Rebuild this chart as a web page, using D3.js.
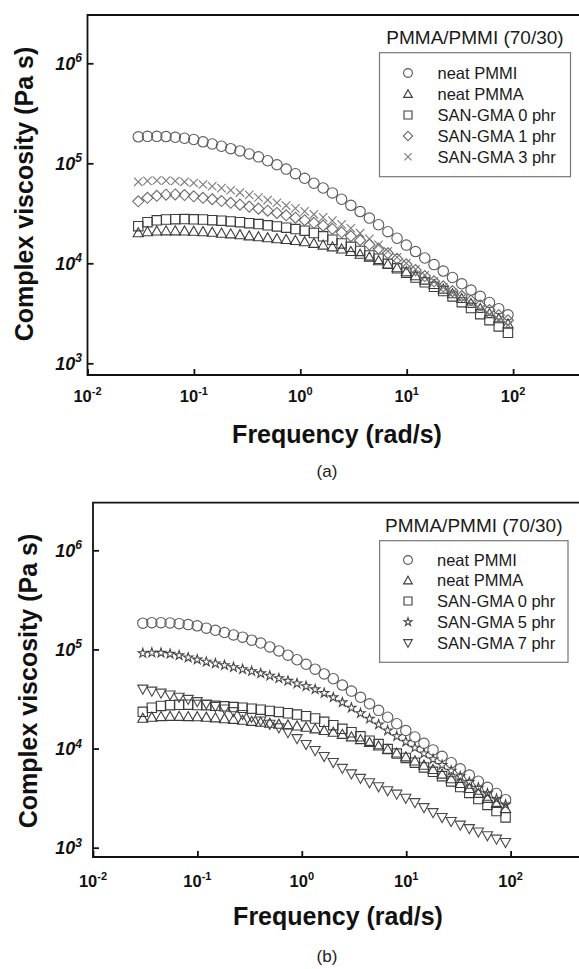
<!DOCTYPE html>
<html>
<head>
<meta charset="utf-8">
<script src="https://cdn.jsdelivr.net/npm/d3@7"></script>
<style>
  html, body { margin: 0; padding: 0; background: #fff; }
  svg { display: block; }
  text { font-family: "Liberation Sans", Arial, Helvetica, sans-serif; }
</style>
</head>
<body>
<svg id="chart" width="579" height="969"></svg>
<script>
// Angular frequency sweep (rad/s), shared by every series
const freq = [0.0300, 0.0366, 0.0448, 0.0547, 0.0668, 0.0816, 0.0996, 0.1217, 0.1487, 0.1816,
  0.2218, 0.2709, 0.3309, 0.4042, 0.4937, 0.6030, 0.7365, 0.8996, 1.099, 1.342,
  1.639, 2.002, 2.445, 2.987, 3.648, 4.456, 5.442, 6.647, 8.119, 9.917,
  12.11, 14.79, 18.07, 22.07, 26.96, 32.93, 40.22, 49.12, 60.00, 73.28, 89.50];

// Complex viscosity (Pa s)
const neatPMMI = [184000, 186000, 186000, 185000, 182000, 178000, 173000, 164000, 156000, 148000,
  140000, 133000, 124000, 116000, 106000, 96600, 87500, 78700, 70800, 63200,
  56600, 50600, 43700, 38000, 32900, 28300, 24300, 20700, 17800, 15200,
  13100, 11300, 9700, 8360, 7210, 6240, 5400, 4680, 4060, 3520, 3050];
const neatPMMA = [20200, 20700, 21000, 21100, 21100, 21000, 20900, 20700, 20400, 20000,
  19700, 19300, 18800, 18400, 18000, 17600, 17300, 16900, 16400, 15800,
  15200, 14600, 13900, 13100, 12300, 11500, 10600, 9820, 9020, 8240,
  7500, 6790, 6140, 5520, 4950, 4440, 3960, 3530, 3140, 2790, 2480];
const sanGma0 = [23500, 25800, 26900, 27400, 27600, 27700, 27500, 27400, 27000, 26700,
  26200, 25800, 25200, 24700, 24000, 23400, 22700, 22000, 21200, 20100,
  18600, 17200, 15800, 14600, 13300, 12000, 11100, 9890, 8910, 8050,
  7210, 6460, 5820, 5270, 4660, 4090, 3570, 3100, 2700, 2340, 2020];
const sanGma1 = [41700, 45200, 47300, 48500, 48800, 48100, 46800, 45200, 43700, 41900,
  40300, 38600, 36900, 35200, 33600, 31900, 30200, 28600, 27000, 25400,
  23800, 22100, 20400, 18700, 17000, 15400, 14000, 12600, 11100, 9770,
  8550, 7450, 6610, 5890, 5270, 4710, 4240, 3800, 3410, 3030, 2690];
const sanGma3 = [65300, 66800, 67300, 67100, 66500, 65300, 63500, 61400, 59000, 56500,
  53800, 51000, 48300, 45500, 42900, 40300, 37800, 35400, 33100, 30900,
  28800, 26700, 24500, 22400, 20000, 17600, 15300, 13200, 11500, 10000,
  8710, 7590, 6610, 5750, 5070, 4470, 3950, 3490, 3090, 2740, 2420];
const sanGma5 = [91600, 92700, 92300, 90200, 87100, 82800, 78900, 75000, 72100, 69200,
  66100, 63100, 60300, 57300, 54200, 51200, 48200, 45300, 42500, 39500,
  36300, 32800, 29200, 25800, 22700, 20000, 17500, 15200, 13300, 11700,
  10200, 8910, 7800, 6820, 5970, 5240, 4590, 4030, 3530, 3100, 2720];
const sanGma7 = [39800, 38000, 36300, 34700, 33000, 31400, 29800, 28200, 26600, 25100,
  23600, 22100, 20700, 19000, 17600, 16200, 14500, 12600, 11000, 9550,
  8320, 7240, 6310, 5560, 5010, 4520, 4120, 3760, 3470, 3160,
  2850, 2540, 2260, 2020, 1840, 1690, 1560, 1440, 1320, 1220, 1130];

// Legend labels
const labelsA = ["neat PMMI", "neat PMMA", "SAN-GMA 0 phr", "SAN-GMA 1 phr", "SAN-GMA 3 phr"];
const labelsB = ["neat PMMI", "neat PMMA", "SAN-GMA 0 phr", "SAN-GMA 5 phr", "SAN-GMA 7 phr"];

// Axis ticks (decades)
const xTickExp = [-2, -1, 0, 1, 2];
const yTickExp = [3, 4, 5, 6];

const legendTitle = "PMMA/PMMI (70/30)";
const xTitle = "Frequency (rad/s)";
const yTitle = "Complex viscosity (Pa s)";

// Marker styles
const markerStyle = {
  circle:   { stroke: "#5a5a5a", size: 10.4 },
  triangle: { stroke: "#3a3a3a", size: 10.2 },
  square:   { stroke: "#3c3c3c", size: 9.4 },
  diamond:  { stroke: "#6a6a6a", size: 11 },
  times:    { stroke: "#7a7a7a", size: 8.4 },
  star:     { stroke: "#444", size: 27 },
  triDown:  { stroke: "#484848", size: 10.2 }
};

function symbolPath(type, s) {
  switch (type) {
    case "circle": return d3.symbol(d3.symbolCircle, Math.PI * (s / 2) * (s / 2))();
    case "square": return d3.symbol(d3.symbolSquare, s * s)();
    case "star": return d3.symbol(d3.symbolStar, s)();
    case "diamond": { const h = s / 2; return `M0,${-h}L${h},0L0,${h}L${-h},0Z`; }
    case "triangle": { const h = s / 2; return `M0,${-h}L${h},${h * 0.78}L${-h},${h * 0.78}Z`; }
    case "triDown": { const h = s / 2; return `M0,${h}L${h},${-h * 0.78}L${-h},${-h * 0.78}Z`; }
    case "times": { const a = s / 2; return `M${-a},${-a}L${a},${a}M${-a},${a}L${a},${-a}`; }
  }
}

const svg = d3.select("#chart");

const panels = [
  {
    caption: "(a)",
    frame: { left: 87.5, top: 15, bottom: 375 },
    xRange: [87.5, 619.5],          // 1e-2 .. 1e3
    yRange: [363.3, 63.3],          // 1e3 .. 1e6
    series: [
      { values: neatPMMI, type: "circle" },
      { values: neatPMMA, type: "triangle" },
      { values: sanGma0, type: "square" },
      { values: sanGma1, type: "diamond" },
      { values: sanGma3, type: "times" }
    ],
    labels: labelsA,
    yLabelRight: 82,
    yTitleX: 33, yTitleY: 194,
    xLabelY: 401.5, xTitleX: 337, xTitleY: 443, captionY: 477,
    legend: { titleY: 44, box: [379.5, 52.7, 570.5, 176.7], symX: 408, textX: 437.5, rows: [73, 94, 115, 136, 156.7] }
  },
  {
    caption: "(b)",
    frame: { left: 93, top: 502.7, bottom: 857 },
    xRange: [93, 615],
    yRange: [847.7, 550.3],
    series: [
      { values: neatPMMI, type: "circle" },
      { values: neatPMMA, type: "triangle" },
      { values: sanGma0, type: "square" },
      { values: sanGma5, type: "star" },
      { values: sanGma7, type: "triDown" }
    ],
    labels: labelsB,
    yLabelRight: 82,
    yTitleX: 37, yTitleY: 681,
    xLabelY: 886.5, xTitleX: 338, xTitleY: 925, captionY: 962,
    legend: { titleY: 531.5, box: [379.6, 540.7, 568, 662.3], symX: 408, textX: 437, rows: [560, 580.5, 601, 622, 643] }
  }
];

panels.forEach(p => {
  const x = d3.scaleLog().domain([1e-2, 1e3]).range(p.xRange);
  const y = d3.scaleLog().domain([1e3, 1e6]).range(p.yRange);
  const g = svg.append("g");

  // Frame: top, left and bottom edges (plot continues past the right edge)
  const f = p.frame;
  g.append("path")
    .attr("d", `M600,${f.top}H${f.left}V${f.bottom}H600`)
    .attr("fill", "none").attr("stroke", "#111").attr("stroke-width", 1.8);

  // Inward decade ticks
  g.append("g").attr("transform", `translate(0,${f.bottom})`)
    .call(d3.axisBottom(x).tickValues(xTickExp.map(e => Math.pow(10, e))).tickSize(-6).tickSizeOuter(0).tickFormat(() => ""))
    .call(a => a.select(".domain").remove())
    .call(a => a.selectAll("line").attr("stroke", "#111").attr("stroke-width", 1.8));
  g.append("g").attr("transform", `translate(${f.left},0)`)
    .call(d3.axisLeft(y).tickValues(yTickExp.map(e => Math.pow(10, e))).tickSize(-6).tickSizeOuter(0).tickFormat(() => ""))
    .call(a => a.select(".domain").remove())
    .call(a => a.selectAll("line").attr("stroke", "#111").attr("stroke-width", 1.8));

  // X tick labels
  xTickExp.forEach(e => {
    const t = g.append("text")
      .attr("x", x(Math.pow(10, e))).attr("y", p.xLabelY)
      .attr("text-anchor", "middle").attr("font-weight", "bold").attr("font-size", 16.5).attr("fill", "#111");
    t.append("tspan").text("10");
    t.append("tspan").attr("dy", -7).attr("font-size", 11).text(e);
  });

  // Y tick labels (bold italic)
  yTickExp.forEach(e => {
    const t = g.append("text")
      .attr("x", p.yLabelRight).attr("y", y(Math.pow(10, e)) + 6.5)
      .attr("text-anchor", "end").attr("font-weight", "bold").attr("font-style", "italic")
      .attr("font-size", 18).attr("fill", "#111");
    t.append("tspan").text("10");
    t.append("tspan").attr("dy", -7.5).attr("font-size", 12).text(e);
  });

  // Axis titles
  g.append("text")
    .attr("x", p.xTitleX).attr("y", p.xTitleY)
    .attr("text-anchor", "middle").attr("font-weight", "bold").attr("font-size", 25).attr("fill", "#111")
    .text(xTitle);
  g.append("text")
    .attr("transform", `translate(${p.yTitleX},${p.yTitleY}) rotate(-90)`)
    .attr("text-anchor", "middle").attr("font-weight", "bold").attr("font-size", 25).attr("fill", "#111")
    .text(yTitle);

  // Caption
  g.append("text")
    .attr("x", 327).attr("y", p.captionY)
    .attr("text-anchor", "middle").attr("font-family", "'Liberation Serif', 'Times New Roman', serif")
    .attr("font-size", 17).attr("fill", "#222")
    .text(p.caption);

  // Data markers
  p.series.forEach(s => {
    const st = markerStyle[s.type];
    const d = symbolPath(s.type, st.size);
    g.append("g").selectAll("path")
      .data(s.values.map((v, i) => [freq[i], v]))
      .join("path")
      .attr("transform", dv => `translate(${x(dv[0])},${y(dv[1])})`)
      .attr("d", d)
      .attr("fill", "none")
      .attr("stroke", st.stroke)
      .attr("stroke-width", 1.1);
  });

  // Legend
  const L = p.legend;
  g.append("text")
    .attr("x", (L.box[0] + L.box[2]) / 2).attr("y", L.titleY)
    .attr("text-anchor", "middle").attr("font-size", 19).attr("fill", "#1a1a1a")
    .text(legendTitle);
  g.append("rect")
    .attr("x", L.box[0]).attr("y", L.box[1])
    .attr("width", L.box[2] - L.box[0]).attr("height", L.box[3] - L.box[1])
    .attr("fill", "#fff").attr("stroke", "#777").attr("stroke-width", 1.2);
  p.series.forEach((s, i) => {
    const st = markerStyle[s.type];
    g.append("path")
      .attr("transform", `translate(${L.symX},${L.rows[i]})`)
      .attr("d", symbolPath(s.type, s.type === "star" ? st.size * 0.75 : st.size * 0.85))
      .attr("fill", "none").attr("stroke", st.stroke).attr("stroke-width", 1.1);
    g.append("text")
      .attr("x", L.textX).attr("y", L.rows[i] + 5.8)
      .attr("font-size", 16.5).attr("fill", "#1a1a1a")
      .text(p.labels[i]);
  });
});
</script>
</body>
</html>
